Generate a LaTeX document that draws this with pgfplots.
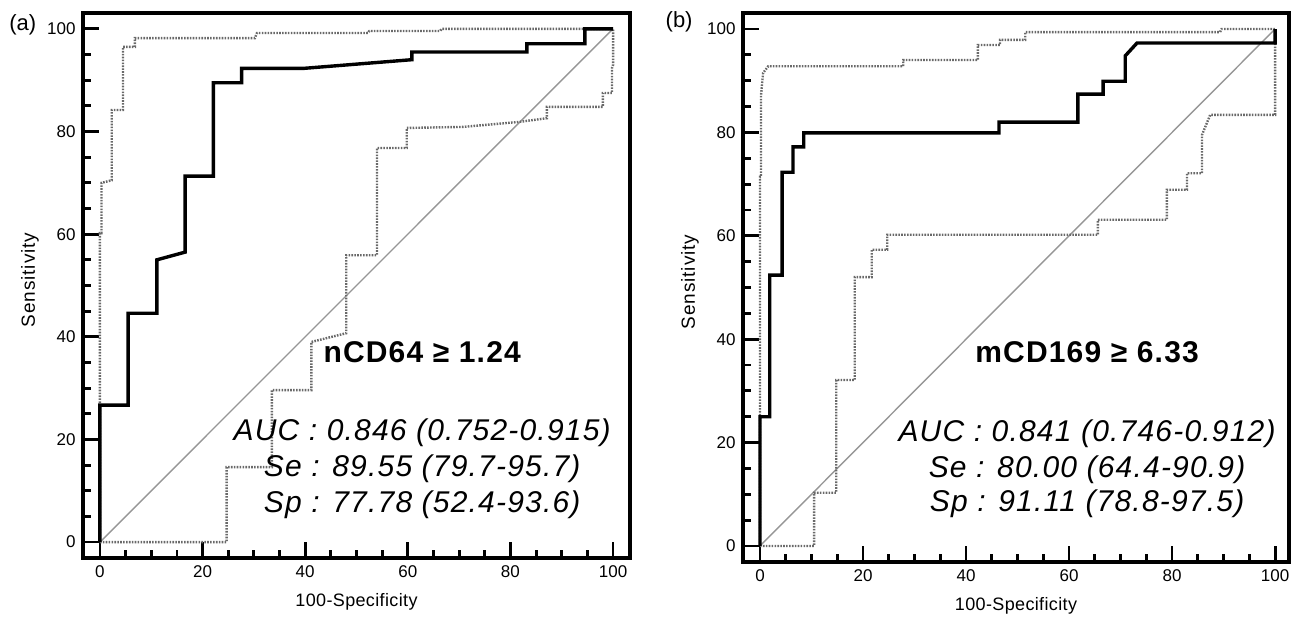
\documentclass[border=0pt]{standalone}
\usepackage{fontspec}
\setmainfont{Liberation Sans}
\newfontfamily\xlblfont[LetterSpace=2]{Liberation Sans}
\newfontfamily\ylblfont[LetterSpace=5]{Liberation Sans}
\newfontfamily\txtfont[LetterSpace=4]{Liberation Sans}
\usepackage{pgfplots}
\pgfplotsset{compat=1.18}

\definecolor{cigray}{RGB}{105,105,105}
\definecolor{diaggray}{RGB}{150,150,150}

\pgfplotsset{
  roc/.style={
    scale only axis, anchor=south west,
    xmin=-3.3, xmax=103.3, ymin=-3.1, ymax=103.1,
    xtick={0,20,...,100}, ytick={0,20,...,100},
    minor x tick num=3, minor y tick num=3,
    tick pos=left, tick align=inside,
    major tick length=16pt, minor tick length=8pt,
    tick style={black, line width=2.8pt},
    axis line style={line width=3.2pt},
    tick label style={font=\fontsize{17}{17}\selectfont},
    /pgf/number format/assume math mode=true,
    xticklabel style={yshift=-4pt},
    yticklabel style={xshift=-4pt},
    xlabel={100-Specificity}, ylabel={Sensitivity},
    xlabel style={at={(axis description cs:0.5,-0.08)}, anchor=center,
      font=\xlblfont\fontsize{18}{18}\selectfont},
    ylabel style={at={(axis description cs:-0.097,0.51)}, anchor=center,
      font=\ylblfont\fontsize{19}{19}\selectfont},
    clip=false,
  },
  ci/.style={cigray, line width=2.4pt, dash pattern=on 1.6pt off 1.3pt},
  cur/.style={black, line width=3.4pt, line join=miter},
  diag/.style={diaggray, line width=1.4pt},
}
\tikzset{
  bigb/.style={anchor=base, font=\txtfont\bfseries\fontsize{30}{30}\selectfont},
  bigi/.style={anchor=base, font=\txtfont\itshape\fontsize{30}{30}\selectfont},
}

\begin{document}
\begin{tikzpicture}
\useasboundingbox (0pt,0pt) rectangle (1293pt,617pt);

% ---- panel (a) ----
\begin{axis}[roc, at={(83pt,59pt)}, width=547pt, height=545pt]
\addplot[diag] coordinates {(0,0)(100,100)};
\addplot[ci] coordinates {(0,0)(0,60.2)(0.3,60.2)(0.3,70.0)(2.3,70.5)(2.3,84.2)(4.5,84.2)(4.5,96.5)(6.8,96.5)(6.8,98.2)(30.2,98.2)(30.6,99.2)(52.2,99.2)(52.5,99.6)(66.3,99.6)(66.6,100)(100,100)};
\addplot[ci] coordinates {(0,0)(24.7,0)(24.7,14.6)(33.5,14.6)(33.5,29.6)(41.2,29.6)(41.2,39.0)(48.0,40.7)(48.0,55.9)(54.0,55.9)(54.0,76.8)(59.8,76.8)(59.8,80.7)(70.8,80.9)(81.9,81.9)(87.1,82.6)(87.1,84.8)(98.0,84.8)(98.0,87.5)(99.8,87.5)(99.8,92.4)(100,93)(100,100)};
\addplot[cur] coordinates {(0,0)(0,26.7)(5.5,26.7)(5.5,44.6)(11.1,44.6)(11.1,55.0)(16.6,56.5)(16.6,71.3)(22.1,71.3)(22.1,89.5)(27.6,89.5)(27.6,92.3)(39.6,92.3)(60.8,94.0)(60.8,95.5)(83.2,95.5)(83.2,97.1)(94.5,97.1)(94.5,100)(100,100)};
\node[bigb] at (axis cs:62.8,34.9) {nCD64 ≥ 1.24};
\node[bigi] at (axis cs:62.8,19.7) {AUC : 0.846 (0.752-0.915)};
\node[bigi] at (axis cs:62.8,12.7) {Se : 89.55 (79.7-95.7)};
\node[bigi] at (axis cs:62.8,5.8) {Sp : 77.78 (52.4-93.6)};
\node[font=\fontsize{22}{22}\selectfont] at (axis description cs:-0.11,0.978) {(a)};
\end{axis}

% ---- panel (b) ----
\begin{axis}[roc, at={(743pt,55pt)}, width=546pt, height=549pt, xmax=102.7]
\addplot[diag] coordinates {(0,0)(100,100)};
\addplot[ci] coordinates {(0,0)(0,71.4)(0.2,71.4)(0.2,87.2)(0.6,91.5)(1.6,92.8)(27.8,92.8)(27.8,94.0)(42.3,94.0)(42.3,96.9)(46.6,96.9)(46.6,97.9)(51.5,97.9)(51.5,99.4)(89.3,99.4)(89.6,100)(100,100)};
\addplot[ci] coordinates {(0,0)(10.5,0)(10.5,10.3)(14.8,10.3)(14.8,32.1)(18.4,32.1)(18.4,52.0)(21.7,52.0)(21.7,57.3)(24.7,57.3)(24.7,60.2)(65.6,60.2)(65.6,63.1)(79.0,63.1)(79.0,68.9)(82.9,68.9)(82.9,72.1)(85.8,72.1)(85.8,79.5)(87.4,83.4)(100,83.4)(100,100)};
\addplot[cur] coordinates {(0,0)(0,25.0)(1.9,25.0)(1.9,52.4)(4.3,52.4)(4.3,72.3)(6.4,72.3)(6.4,77.2)(8.5,77.2)(8.5,79.9)(46.4,79.9)(46.4,82.0)(61.7,82.0)(61.7,87.4)(66.6,87.4)(66.6,89.9)(70.9,89.9)(70.9,94.8)(73.2,97.3)(100,97.3)(100,100)};
\node[bigb] at (axis cs:63.5,35.4) {mCD169 ≥ 6.33};
\node[bigi] at (axis cs:63.5,20.3) {AUC : 0.841 (0.746-0.912)};
\node[bigi] at (axis cs:63.5,13.3) {Se : 80.00 (64.4-90.9)};
\node[bigi] at (axis cs:63.5,6.6) {Sp : 91.11 (78.8-97.5)};
\node[font=\fontsize{22}{22}\selectfont] at (axis description cs:-0.117,0.984) {(b)};
\end{axis}
\end{tikzpicture}
\end{document}
